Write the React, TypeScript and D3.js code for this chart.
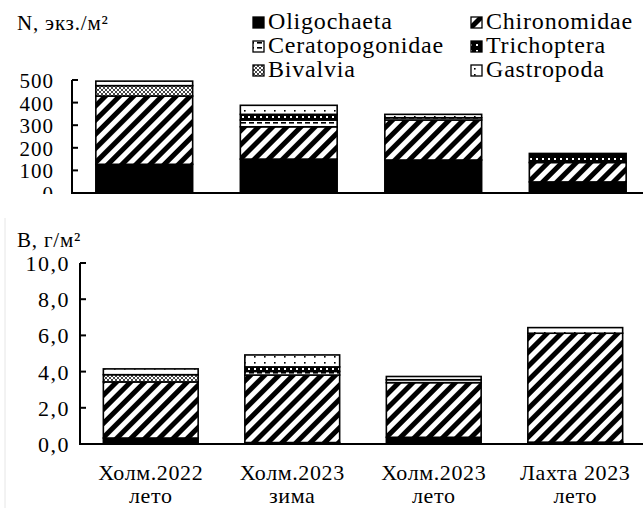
import React from "react";
import * as d3 from "d3";

const catLine1 = ["Холм.2022", "Холм.2023", "Холм.2023", "Лахта 2023"];
const catLine2 = ["лето", "зима", "лето", "лето"];
const taxa = ["Oligochaeta", "Chironomidae", "Ceratopogonidae", "Trichoptera", "Bivalvia", "Gastropoda"];

// N, экз./м²
const nOligochaeta = [127, 150, 146, 49];
const nChironomidae = [302, 143, 177, 86];
const nCeratopogonidae = [0, 30, 10, 0];
const nTrichoptera = [0, 25, 0, 40];
const nBivalvia = [46, 0, 0, 0];
const nGastropoda = [20, 40, 15, 0];

// B, г/м²
const bOligochaeta = [0.33, 0.08, 0.37, 0.1];
const bChironomidae = [3.1, 3.73, 3.02, 6.02];
const bCeratopogonidae = [0, 0.2, 0.16, 0];
const bTrichoptera = [0, 0.25, 0, 0];
const bBivalvia = [0.4, 0, 0, 0];
const bGastropoda = [0.32, 0.66, 0.18, 0.31];

const nTicks = [0, 100, 200, 300, 400, 500];
const bTicks = [0, 2, 4, 6, 8, 10];

const fills: Record<string, string> = {
  Oligochaeta: "black",
  Chironomidae: "url(#pChiron)",
  Ceratopogonidae: "url(#pCerat)",
  Trichoptera: "url(#pTrich)",
  Bivalvia: "url(#pBiv)",
  Gastropoda: "url(#pGastro)",
};

const FONT = "Liberation Serif";

function T({ x, y, ls = 0, size = 20, anchor = "start", children }: any) {
  return (
    <text
      x={x}
      y={y}
      fontFamily={FONT}
      fontSize={size}
      letterSpacing={ls}
      textAnchor={anchor}
      fill="black"
    >
      {children}
    </text>
  );
}

function buildRows(series: number[][]) {
  return catLine1.map((_, i) => {
    const row: any = { idx: i };
    taxa.forEach((t, k) => (row[t] = series[k][i]));
    return row;
  });
}

function Panel({ series, ticks, yTop, yBottom, xLeft, step, fmt, labelRight, labelSize, labelLs, clipBottom, id }: any) {
  const rows = buildRows(series);
  const stack = d3.stack<any>().keys(taxa)(rows);
  const y = d3.scaleLinear().domain([ticks[0], ticks[ticks.length - 1]]).range([yBottom, yTop]);
  const x = d3
    .scaleBand<number>()
    .domain(rows.map((r) => r.idx))
    .range([xLeft, xLeft + step * rows.length])
    .paddingInner(0.33)
    .paddingOuter(0.165);
  return (
    <g>
      <defs>
        <clipPath id={id}>
          <rect x={0} y={0} width={643} height={clipBottom} />
        </clipPath>
      </defs>
      {stack.map((layer) => (
        <g key={layer.key}>
          {layer.map((d, i) => {
            const h = y(d[0]) - y(d[1]);
            if (h <= 0.01) return null;
            return (
              <rect
                key={i}
                x={x(i)!}
                y={y(d[1])}
                width={x.bandwidth()}
                height={h}
                fill={fills[layer.key]}
                stroke="black"
                strokeWidth={1.6}
              />
            );
          })}
        </g>
      ))}
      <line x1={xLeft} x2={xLeft} y1={yTop} y2={yBottom} stroke="black" strokeWidth={2} />
      <line x1={xLeft - 1} x2={643} y1={yBottom} y2={yBottom} stroke="black" strokeWidth={2} />
      {ticks.map((t: number) => (
        <line key={t} x1={xLeft} x2={xLeft + 6} y1={y(t)} y2={y(t)} stroke="black" strokeWidth={2} />
      ))}
      <g clipPath={`url(#${id})`}>
        {ticks.map((t: number) => (
          <T key={t} x={labelRight} y={y(t) + 8} anchor="end" size={labelSize} ls={labelLs}>
            {fmt(t)}
          </T>
        ))}
      </g>
    </g>
  );
}

export default function App() {
  const nSeries = [nOligochaeta, nChironomidae, nCeratopogonidae, nTrichoptera, nBivalvia, nGastropoda];
  const bSeries = [bOligochaeta, bChironomidae, bCeratopogonidae, bTrichoptera, bBivalvia, bGastropoda];
  const bStep = 141.5;
  const bLeft = 80;
  const legendLeft = taxa.filter((_, i) => i % 2 === 0);
  const legendRight = taxa.filter((_, i) => i % 2 === 1);
  const rowsY = [29, 53, 77];
  return (
    <svg
      width={643}
      height={508}
      style={{ position: "absolute", left: 0, top: 0, background: "white" }}
    >
      <defs>
        <pattern id="pChiron" patternUnits="userSpaceOnUse" width={10} height={10} patternTransform="rotate(45)">
          <rect width={10} height={10} fill="white" />
          <rect width={5} height={10} fill="black" />
        </pattern>
        <pattern id="pCerat" patternUnits="userSpaceOnUse" width={8} height={5}>
          <rect width={8} height={5} fill="white" />
          <rect x={1} y={2} width={5} height={1.6} fill="black" />
        </pattern>
        <pattern id="pTrich" patternUnits="userSpaceOnUse" width={6} height={6}>
          <rect width={6} height={6} fill="black" />
          <rect x={2} y={2} width={2} height={2} fill="white" />
        </pattern>
        <pattern id="pBiv" patternUnits="userSpaceOnUse" width={4} height={4}>
          <rect width={4} height={4} fill="white" />
          <path d="M0,0L4,4M4,0L0,4" stroke="#333" strokeWidth={0.9} />
        </pattern>
        <pattern id="pGastro" patternUnits="userSpaceOnUse" width={10} height={6}>
          <rect width={10} height={6} fill="white" />
          <rect x={4} y={2} width={1.6} height={1.6} fill="black" />
        </pattern>
      </defs>

      <line x1={5} x2={5} y1={218} y2={508} stroke="#e6e6e6" strokeWidth={1} />

      <T x={17} y={30} size={21} ls={0.8}>N, экз./м²</T>
      <T x={17} y={247} size={21} ls={0.8}>B, г/м²</T>

      {legendLeft.map((t, i) => (
        <g key={t}>
          <rect x={253} y={rowsY[i] - 12} width={11} height={11} fill={fills[t]} stroke="black" strokeWidth={1.3} />
          <T x={268} y={rowsY[i]} size={24} ls={0.8}>{t}</T>
        </g>
      ))}
      {legendRight.map((t, i) => (
        <g key={t}>
          <rect x={471} y={rowsY[i] - 12} width={11} height={11} fill={fills[t]} stroke="black" strokeWidth={1.3} />
          <T x={486} y={rowsY[i]} size={24} ls={0.8}>{t}</T>
        </g>
      ))}

      <Panel
        id="clipTop"
        series={nSeries}
        ticks={nTicks}
        yTop={80}
        yBottom={193}
        xLeft={72}
        step={144.5}
        fmt={(v: number) => String(v)}
        labelRight={54}
        labelSize={21}
        labelLs={1}
        clipBottom={194}
      />
      <Panel
        id="clipBot"
        series={bSeries}
        ticks={bTicks}
        yTop={263}
        yBottom={444}
        xLeft={bLeft}
        step={bStep}
        fmt={(v: number) => d3.format(".1f")(v).replace(".", ",")}
        labelRight={70}
        labelSize={22}
        labelLs={1.5}
        clipBottom={508}
      />

      {catLine1.map((c, i) => {
        const cx = bLeft + bStep * 0.165 + bStep * i + (bStep * 0.67) / 2;
        return (
          <g key={i}>
            <T x={cx} y={480} size={22} ls={0.6} anchor="middle">{c}</T>
            <T x={cx} y={503} size={22} ls={0.6} anchor="middle">{catLine2[i]}</T>
          </g>
        );
      })}
    </svg>
  );
}
